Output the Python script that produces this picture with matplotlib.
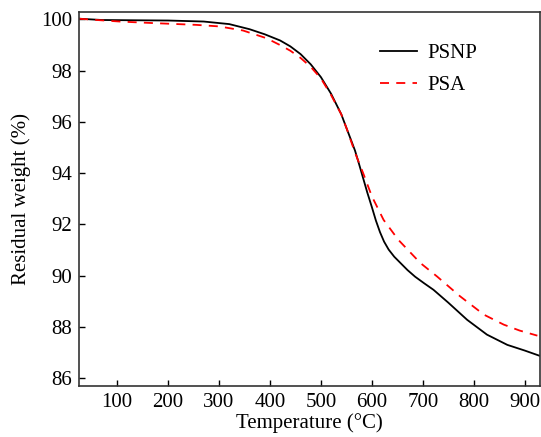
import matplotlib.pyplot as plt

plt.rcParams['font.family'] = ['Liberation Serif', 'DejaVu Serif']

# PSNP (black solid)
psnp_t = [25, 70, 130, 200, 270, 320, 360, 390, 420, 440, 460, 480, 500, 520,
          540, 551, 560, 567, 575, 583, 591, 600, 608, 616, 624, 633, 644, 656,
          670, 685, 703, 721, 750, 787, 826, 866, 900, 930]
psnp_w = [100.03, 99.98, 99.97, 99.96, 99.92, 99.82, 99.62, 99.42, 99.18, 98.95,
          98.65, 98.25, 97.75, 97.1, 96.3, 95.72, 95.25, 94.88, 94.35, 93.8, 93.25,
          92.68, 92.15, 91.7, 91.33, 91.02, 90.74, 90.5, 90.22, 89.96, 89.7, 89.45,
          88.95, 88.28, 87.7, 87.3, 87.08, 86.87]

# PSA (red dashed)
psa_t = [25, 60, 105, 170, 255, 300, 347, 393, 420, 440, 460, 480, 500, 520,
         540, 551, 567, 583, 600, 623, 652, 695, 728, 773, 820, 859, 890, 911,
         925]
psa_w = [100.03, 99.98, 99.92, 99.86, 99.79, 99.73, 99.57, 99.27, 99.0, 98.78,
         98.5, 98.15, 97.7, 97.05, 96.3, 95.72, 94.8, 94.0, 93.1, 92.18, 91.4,
         90.5, 89.97, 89.2, 88.48, 88.09, 87.86, 87.74, 87.66]

fig = plt.figure(figsize=(5.41, 4.37), dpi=100)
ax = fig.add_axes([0.146, 0.117, 0.852, 0.856])

ax.plot(psnp_t, psnp_w, color='black', lw=1.3, label='PSNP')
ax.plot(psa_t, psa_w, color='red', lw=1.3, dashes=(5, 4), label='PSA')

ax.set_xlim(25, 930)
ax.set_ylim(85.7, 100.3)
ax.set_xticks(range(100, 1000, 100))
ax.set_yticks(range(86, 101, 2))
ax.tick_params(direction='in', length=4.5, width=1, labelsize=15,
               top=False, right=False, pad=5)
for s in ax.spines.values():
    s.set_linewidth(1.2)
    s.set_color('#333333')

ax.set_xlabel('Temperature (°C)', fontsize=15, labelpad=1)
ax.set_ylabel('Residual weight (%)', fontsize=15, labelpad=7)

ax.legend(loc='upper right', frameon=False, fontsize=15,
          bbox_to_anchor=(0.905, 0.965), handlelength=1.8, labelspacing=0.6,
          handletextpad=0.5)

plt.savefig('out.png', dpi=100)
